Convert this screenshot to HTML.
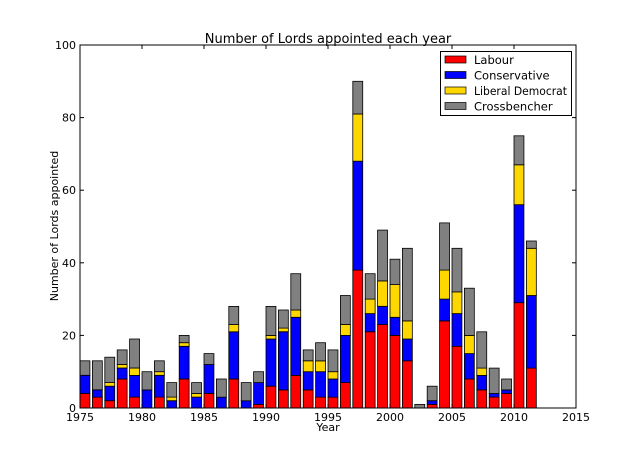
<!DOCTYPE html>
<html><head><meta charset="utf-8"><style>
html,body{margin:0;padding:0;background:#fff;}
svg{display:block;font-family:"DejaVu Sans","Liberation Sans",sans-serif;}
</style></head><body>
<svg id="s" width="640" height="454" viewBox="0 0 640 454">
<rect x="0" y="0" width="640" height="454" fill="#fff"/>
<g id="bars"></g>
<rect x="80" y="45" width="496" height="363" fill="none" stroke="#000" stroke-width="1"/>
<g stroke="#000" stroke-width="1">
<line x1="80" y1="408" x2="84" y2="408"/><line x1="80" y1="335.4" x2="84" y2="335.4"/><line x1="80" y1="262.8" x2="84" y2="262.8"/><line x1="80" y1="190.2" x2="84" y2="190.2"/><line x1="80" y1="117.6" x2="84" y2="117.6"/>
<line x1="576" y1="335.4" x2="572" y2="335.4"/><line x1="576" y1="262.8" x2="572" y2="262.8"/><line x1="576" y1="190.2" x2="572" y2="190.2"/><line x1="576" y1="117.6" x2="572" y2="117.6"/>
<line x1="142" y1="408" x2="142" y2="404"/><line x1="204" y1="408" x2="204" y2="404"/><line x1="266" y1="408" x2="266" y2="404"/><line x1="328" y1="408" x2="328" y2="404"/><line x1="390" y1="408" x2="390" y2="404"/><line x1="452" y1="408" x2="452" y2="404"/><line x1="514" y1="408" x2="514" y2="404"/>
<line x1="142" y1="45" x2="142" y2="49"/><line x1="204" y1="45" x2="204" y2="49"/><line x1="266" y1="45" x2="266" y2="49"/><line x1="328" y1="45" x2="328" y2="49"/><line x1="390" y1="45" x2="390" y2="49"/><line x1="452" y1="45" x2="452" y2="49"/><line x1="514" y1="45" x2="514" y2="49"/>
</g>
<g font-size="11" fill="#000" text-anchor="end">
<text x="76" y="412">0</text><text x="76" y="339.4">20</text><text x="76" y="266.8">40</text><text x="76" y="194.2">60</text><text x="76" y="121.6">80</text><text x="76" y="49">100</text>
</g>
<g font-size="11" fill="#000" text-anchor="middle">
<text x="80" y="421">1975</text><text x="142" y="421">1980</text><text x="204" y="421">1985</text><text x="266" y="421">1990</text><text x="328" y="421">1995</text><text x="390" y="421">2000</text><text x="452" y="421">2005</text><text x="514" y="421">2010</text><text x="576" y="421">2015</text>
<text x="328" y="431">Year</text>
<text x="0" y="0" transform="translate(58,226) rotate(-90)">Number of Lords appointed</text>
</g>
<text x="328" y="43" font-size="13" text-anchor="middle">Number of Lords appointed each year</text>
<rect x="440.5" y="51.5" width="131" height="64" fill="#fff" stroke="#000"/>
<rect x="445" y="56" width="21" height="7" fill="#f00" stroke="#000" stroke-width="0.7"/>
<rect x="445" y="71.5" width="21" height="7" fill="#00f" stroke="#000" stroke-width="0.7"/>
<rect x="445" y="87" width="21" height="7" fill="#ffd700" stroke="#000" stroke-width="0.7"/>
<rect x="445" y="102.5" width="21" height="7" fill="#808080" stroke="#000" stroke-width="0.7"/>
<g font-size="11.5" fill="#000">
<text x="474" y="64">Labour</text><text x="474" y="79.5">Conservative</text><text x="474" y="95" textLength="93" lengthAdjust="spacingAndGlyphs">Liberal Democrat</text><text x="474" y="110.5">Crossbencher</text>
</g>
</svg>
<script>
var d=[[4,9,9,13],[3,5,5,13],[2,6,7,14],[8,11,12,16],[3,9,11,19],[0,5,5,10],[3,9,10,13],[0,2,3,7],[8,17,18,20],[0,3,4,7],[4,12,12,15],[0,3,3,8],[8,21,23,28],[0,2,2,7],[1,7,7,10],[6,19,20,28],[5,21,22,27],[9,25,27,37],[5,10,13,16],[3,10,13,18],[3,8,10,16],[7,20,23,31],[38,68,81,90],[21,26,30,37],[23,28,35,49],[20,25,34,41],[13,19,24,44],[0,0,0,1],[1,2,2,6],[24,30,38,51],[17,26,32,44],[8,15,20,33],[5,9,11,21],[3,4,4,11],[4,5,5,8],[29,56,67,75],[11,31,44,46]];
var cols=["#f00","#00f","#ffd700","#808080"],g=document.getElementById("bars"),h="";
d.forEach(function(r,i){var x=80+i*12.4,prev=0;for(var k=0;k<4;k++){var v=r[k];if(v>prev){var y1=408-v*3.63,y0=408-prev*3.63;h+='<rect x="'+x.toFixed(1)+'" y="'+y1.toFixed(1)+'" width="9.92" height="'+(y0-y1).toFixed(1)+'" fill="'+cols[k]+'" stroke="#000" stroke-width="0.8"/>';}prev=Math.max(prev,v);}});
g.innerHTML=h;
</script>
</body></html>
